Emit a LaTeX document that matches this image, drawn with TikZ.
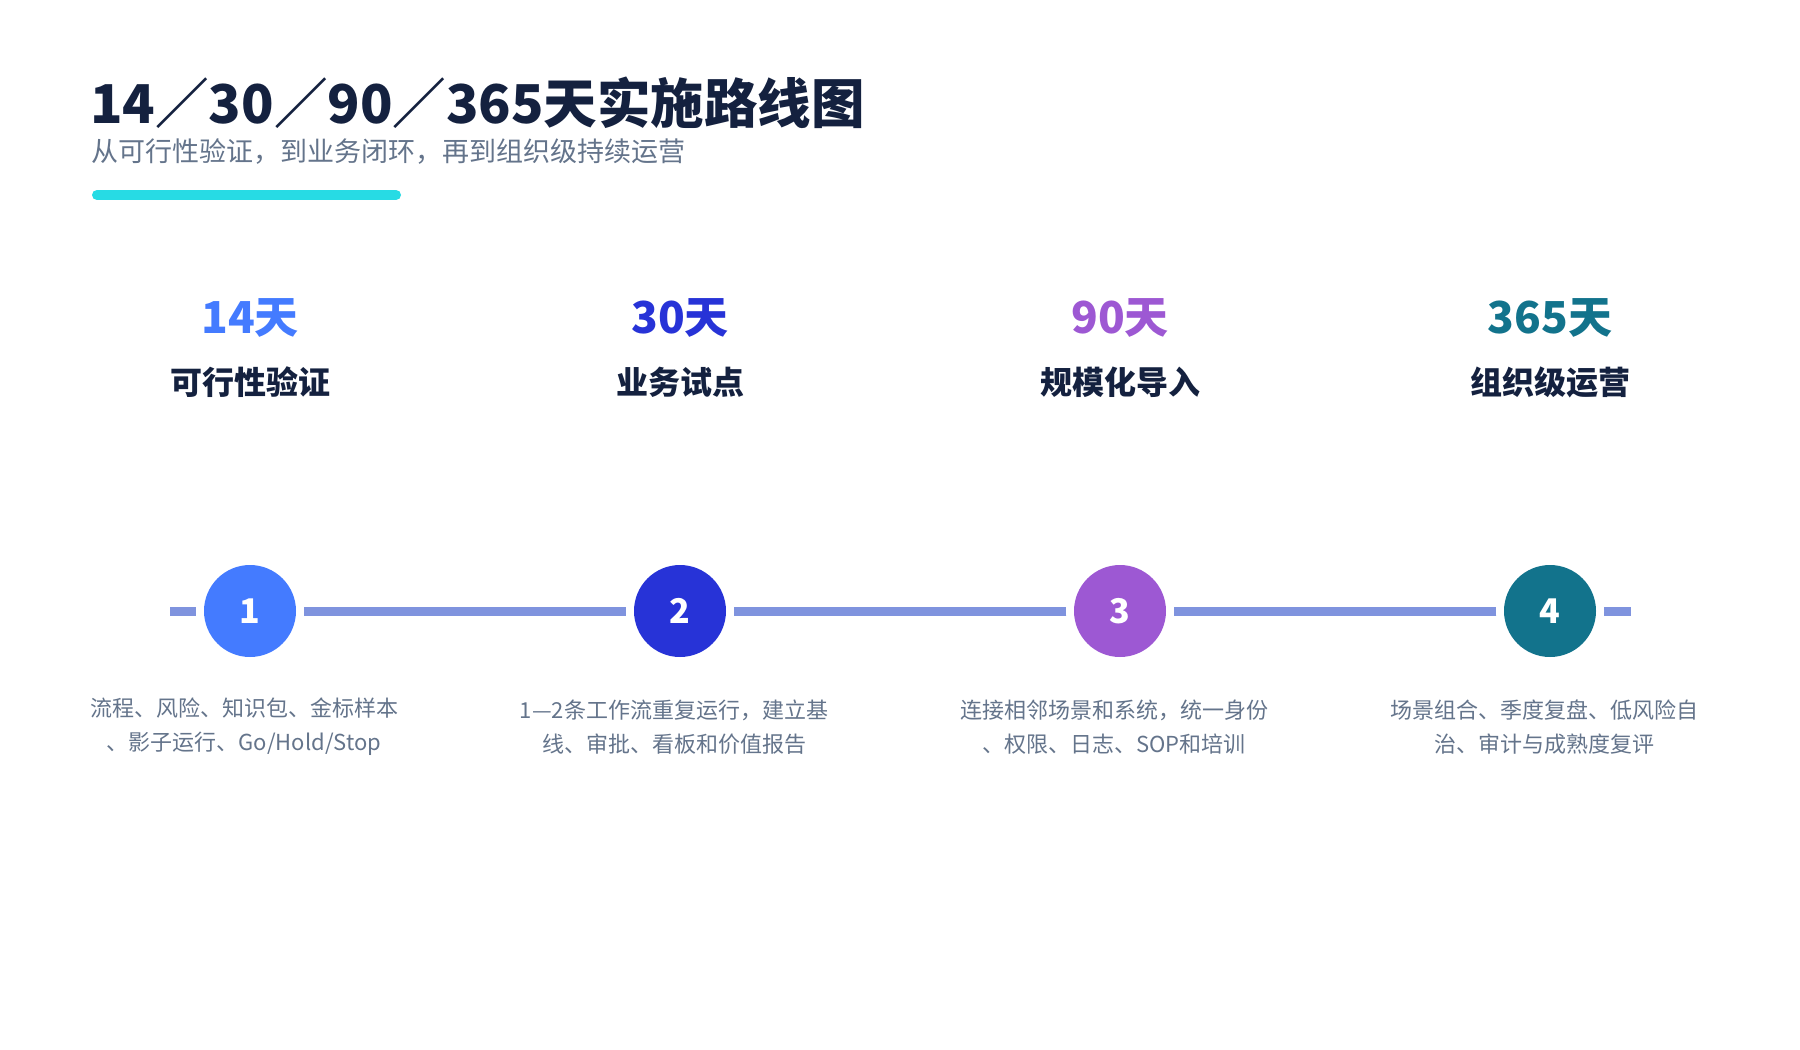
\documentclass[tikz,border=0pt]{standalone}
\usepackage{fontspec}
\setmainfont{Noto Sans CJK SC}
\definecolor{navy}{HTML}{14213F}
\definecolor{subgrey}{HTML}{64748B}
\definecolor{barcyan}{HTML}{27DBE4}
\definecolor{linecol}{HTML}{7F93DE}
\definecolor{cA}{HTML}{447BFF}
\definecolor{cB}{HTML}{2733D7}
\definecolor{cC}{HTML}{9D58D3}
\definecolor{cD}{HTML}{12738C}
\tikzset{
  dayl/.style={font=\fontsize{44}{50}\selectfont\bfseries, inner sep=0pt},
  stagel/.style={font=\fontsize{32}{36}\selectfont\bfseries, text=navy, inner sep=0pt},
  descl/.style={font=\fontsize{22}{34}\selectfont, text=subgrey, align=center, inner sep=0pt},
  stepdot/.style={circle, minimum size=92pt, inner sep=0pt, text=white, font=\fontsize{34}{40}\selectfont\bfseries},
  ring/.style={circle, fill=white, minimum size=108pt, inner sep=0pt},
}
\begin{document}
\begin{tikzpicture}[x=1pt,y=-1pt]
\useasboundingbox[fill=white] (0,0) rectangle (1800,1050);
\node[anchor=west, inner sep=0pt, text=navy, font=\fontsize{53.5}{60}\selectfont\bfseries] (title) at (90,103) {14／30／90／365天实施路线图};
\node[anchor=west, inner sep=0pt, text=subgrey, font=\fontsize{27}{32}\selectfont] (sub) at (91,152) {从可行性验证，到业务闭环，再到组织级持续运营};
\draw[barcyan, line width=10pt, line cap=round] (97,195) -- (396,195);
% timeline
\coordinate (ls) at (170,611);
\coordinate (le) at (1631,611);
\draw[linecol, line width=9pt] (ls) -- (le);
\foreach \x/\n/\c in {250/1/cA, 680/2/cB, 1120/3/cC, 1550/4/cD}{
  \node[ring] (r\n) at (\x,611) {};
  \node[stepdot, fill=\c] (s\n) at (\x,611) {\n};
}
% day labels
\node[dayl, text=cA] (d1) at (250,318) {14天};
\node[dayl, text=cB] (d2) at (680,318) {30天};
\node[dayl, text=cC] (d3) at (1120,318) {90天};
\node[dayl, text=cD] (d4) at (1550,318) {365天};
% stage names
\node[stagel] (n1) at (250,382) {可行性验证};
\node[stagel] (n2) at (680,382) {业务试点};
\node[stagel] (n3) at (1120,382) {规模化导入};
\node[stagel] (n4) at (1550,382) {组织级运营};
% descriptions
\node[descl] (t1) at (244,727) {流程、风险、知识包、金标样本\\、影子运行、Go/Hold/Stop};
\node[descl] (t2) at (674,727) {1—2条工作流重复运行，建立基\\线、审批、看板和价值报告};
\node[descl] (t3) at (1114,727) {连接相邻场景和系统，统一身份\\、权限、日志、SOP和培训};
\node[descl] (t4) at (1544,727) {场景组合、季度复盘、低风险自\\治、审计与成熟度复评};
\end{tikzpicture}
\end{document}
